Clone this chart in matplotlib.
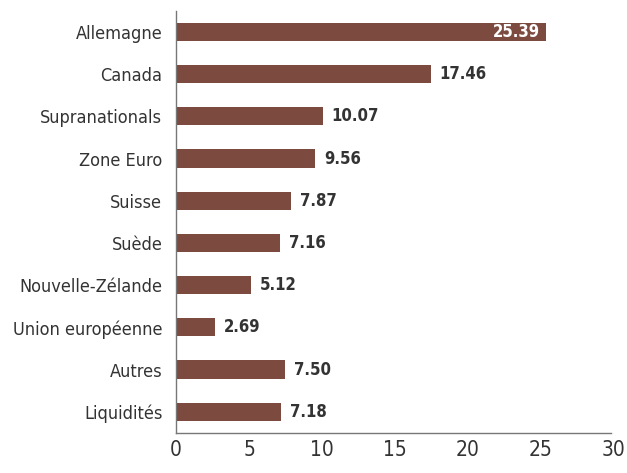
import matplotlib.pyplot as plt

# Data
countries = ["Allemagne", "Canada", "Supranationals", "Zone Euro", "Suisse",
             "Suède", "Nouvelle-Zélande", "Union européenne", "Autres", "Liquidités"]
weights = [25.39, 17.46, 10.07, 9.56, 7.87, 7.16, 5.12, 2.69, 7.50, 7.18]
xticks = [0, 5, 10, 15, 20, 25, 30]

plt.rcParams['font.family'] = ['DejaVu Sans']
plt.rcParams['font.stretch'] = 'condensed'

bar_color = '#7d4a40'
text_color = '#333333'

fig = plt.figure(figsize=(6.27, 4.73), dpi=100)
ax = fig.add_axes([0.281, 0.085, 0.697, 0.892])

ypos = list(range(len(countries)))
ax.barh(ypos, weights, height=0.43, color=bar_color)

for y, v in zip(ypos, weights):
    if v > 20:
        ax.text(v - 0.4, y, f"{v:.2f}", va='center', ha='right', color='white',
                fontsize=12, fontweight='bold', fontstretch='condensed')
    else:
        ax.text(v + 0.6, y, f"{v:.2f}", va='center', ha='left', color=text_color,
                fontsize=12, fontweight='bold', fontstretch='condensed')

ax.set_xlim(0, 30)
ax.set_ylim(len(countries) - 0.5, -0.5)
ax.set_yticks(ypos)
ax.set_yticklabels(countries, fontstretch='condensed')
ax.set_xticks(xticks)
ax.set_xticklabels([str(t) for t in xticks], fontstretch='condensed')
ax.tick_params(axis='y', length=0, pad=10, labelsize=13, labelcolor=text_color)
ax.tick_params(axis='x', length=0, pad=5, labelsize=15, labelcolor=text_color)

for side in ['top', 'right']:
    ax.spines[side].set_visible(False)
for side in ['left', 'bottom']:
    ax.spines[side].set_color('#777777')
    ax.spines[side].set_linewidth(1)
ax.spines['bottom'].set_bounds(0, 29.85)

fig.savefig('out.png', dpi=100)
